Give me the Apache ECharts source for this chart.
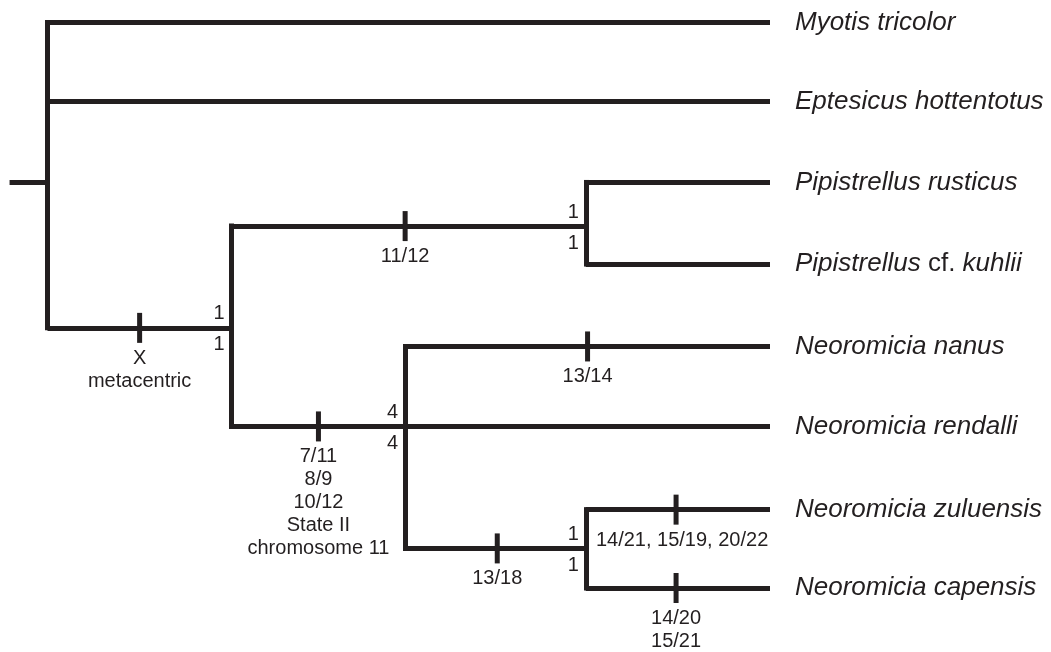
<!DOCTYPE html>
<html><head><meta charset="utf-8">
<script src="https://cdn.jsdelivr.net/npm/echarts@6/dist/echarts.min.js"></script>
<style>html,body{margin:0;padding:0;background:#fff}#c{width:1051px;height:652px}</style>
</head><body><div id="c"></div>
<script>
// ---- Tree data (x = branch depth units, row = leaf row units) ----
const nodeIds    = ['root','A','Pip','Neo','ZC','Myotis','Eptesicus','Prusticus','Pkuhlii','Nnanus','Nrendalli','Nzuluensis','Ncapensis'];
const nodeParent = [null,'root','A','A','Neo','root','root','Pip','Pip','Neo','Neo','ZC','ZC'];
const nodeX      = [0, 1.02, 2.98, 1.98, 2.98, 4, 4, 4, 4, 4, 4, 4, 4];
const nodeRow    = [1.98, 3.78, 2.52, 5.0, 6.51, 0, 0.98, 1.98, 2.99, 4.01, 5.0, 6.03, 7.0];
const rootStubX  = -0.21;

const leafIds   = ['Myotis','Eptesicus','Prusticus','Pkuhlii','Nnanus','Nrendalli','Nzuluensis','Ncapensis'];
const leafNames = ['Myotis tricolor','Eptesicus hottentotus','Pipistrellus rusticus','Pipistrellus cf. kuhlii','Neoromicia nanus','Neoromicia rendalli','Neoromicia zuluensis','Neoromicia capensis'];

// character changes: branch (node id whose incoming branch carries it), position, label
const changeBranch = ['A','Pip','Neo','Nnanus','ZC','Nzuluensis','Ncapensis'];
const changeX      = [0.51, 1.98, 1.50, 2.99, 2.49, 3.48, 3.48];
const changeLabel  = ['X\nmetacentric','11/12','7/11\n8/9\n10/12\nState II\nchromosome 11','13/14','13/18','14/21, 15/19, 20/22','14/20\n15/21'];

// support values at nodes
const supportNode  = ['A','Pip','Neo','ZC'];
const supportUpper = ['1','1','4','1'];
const supportLower = ['1','1','4','1'];

// ---- build ----
const INK = '#231f20';
const FONT = '"Liberation Sans", Arial, Helvetica, sans-serif';
const idx = id => nodeIds.indexOf(id);

const hSegs = [];
const vSegs = [];
nodeIds.forEach((id, i) => {
  const p = nodeParent[i];
  if (p !== null) {
    const pi = idx(p);
    hSegs.push({coords: [[nodeX[pi], nodeRow[i]], [nodeX[i], nodeRow[i]]]});
  } else {
    hSegs.push({coords: [[rootStubX, nodeRow[i]], [nodeX[i], nodeRow[i]]]});
  }
  const kids = nodeIds.map((k, j) => j).filter(j => nodeParent[j] === id);
  if (kids.length) {
    const rows = kids.map(j => nodeRow[j]);
    vSegs.push({coords: [[nodeX[i], Math.min(...rows)], [nodeX[i], Math.max(...rows)]]});
  }
});

const tickData = changeBranch.map((b, k) => ({
  value: [changeX[k], nodeRow[idx(b)]],
  label: { offset: [b === 'Nzuluensis' ? 6 : 0, 0] }
}));
const tickLabelText = changeLabel;

const supUp = supportNode.map((n, k) => [nodeX[idx(n)], nodeRow[idx(n)], supportUpper[k]]);
const supLo = supportNode.map((n, k) => [nodeX[idx(n)], nodeRow[idx(n)], supportLower[k]]);

const leafData = leafIds.map((l, k) => [nodeX[idx(l)], nodeRow[idx(l)], leafNames[k]]);

function richName(name) {
  return name.split(' ').map(w => w === 'cf.' ? '{n|cf.}' : '{i|' + w + '}').join('{n| }');
}

const solid = {color: INK, opacity: 1};
const chart = echarts.init(document.getElementById('c'), null, {renderer: 'canvas'});
chart.setOption({
  animation: false,
  backgroundColor: '#ffffff',
  grid: {left: 47.5, right: 281, top: 22.5, bottom: 64, containLabel: false},
  xAxis: {type: 'value', min: 0, max: 4, show: false},
  yAxis: {type: 'value', min: 0, max: 7, inverse: true, show: false},
  series: [
    {
      type: 'lines', coordinateSystem: 'cartesian2d', clip: false, silent: true,
      lineStyle: {color: INK, width: 5, opacity: 1, cap: 'butt'},
      data: hSegs
    },
    {
      type: 'lines', coordinateSystem: 'cartesian2d', clip: false, silent: true,
      lineStyle: {color: INK, width: 5, opacity: 1, cap: 'square'},
      data: vSegs
    },
    {
      type: 'scatter', clip: false, silent: true,
      symbol: 'rect', symbolSize: [5, 30],
      itemStyle: solid,
      label: {
        show: true, position: 'bottom', distance: 4, opacity: 1,
        formatter: p => tickLabelText[p.dataIndex],
        color: INK, fontFamily: FONT, fontSize: 20, lineHeight: 23, align: 'center'
      },
      data: tickData
    },
    {
      type: 'scatter', clip: false, silent: true, symbolSize: 0, itemStyle: solid,
      label: {
        show: true, position: 'left', distance: 7, offset: [0, -14], opacity: 1,
        formatter: p => p.value[2], color: INK, fontFamily: FONT, fontSize: 20
      },
      data: supUp
    },
    {
      type: 'scatter', clip: false, silent: true, symbolSize: 0, itemStyle: solid,
      label: {
        show: true, position: 'left', distance: 7, offset: [0, 17], opacity: 1,
        formatter: p => p.value[2], color: INK, fontFamily: FONT, fontSize: 20
      },
      data: supLo
    },
    {
      type: 'scatter', clip: false, silent: true, symbolSize: 0, itemStyle: solid,
      label: {
        show: true, position: 'right', distance: 25, opacity: 1,
        formatter: p => richName(p.value[2]),
        color: INK, fontFamily: FONT, fontSize: 26,
        rich: {
          i: {fontStyle: 'italic', fontFamily: FONT, fontSize: 26, color: INK},
          n: {fontStyle: 'normal', fontFamily: FONT, fontSize: 26, color: INK}
        }
      },
      data: leafData
    }
  ]
});
</script>
</body></html>
